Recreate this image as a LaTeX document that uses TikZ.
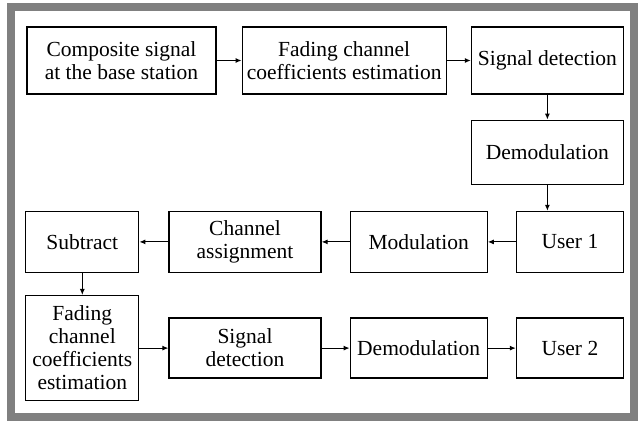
\documentclass[tikz,border=0pt]{standalone}
\usepackage{fontspec}
\setmainfont{LiberationSerif}[Extension=.ttf,UprightFont=*-Regular,BoldFont=*-Bold]
\usetikzlibrary{arrows.meta,positioning}
\definecolor{framegray}{HTML}{808080}
\tikzset{
  stagebox/.style={draw=black,line width=1.2pt,fill=white,align=center,inner sep=2pt,font=\fontsize{21.5}{23}\selectfont,minimum height=61pt},
  stagearrow/.style={-{Latex[length=6pt,width=5pt]},line width=1.1pt},
}
\begin{document}
\begin{tikzpicture}[x=1pt,y=-1pt]
  \useasboundingbox (0,0) rectangle (641,425);
  \draw[framegray,line width=8pt] (11,7) rectangle (634,417);
  % top row and the column down the right side
  \node[stagebox,minimum width=189pt,minimum height=67pt] (composite) at (121.5,60.5) {Composite signal\\at the base station};
  \node[stagebox,minimum width=204pt,minimum height=67pt,right=25pt of composite] (fadingone) {Fading channel\\coefficients estimation};
  \node[stagebox,minimum width=152pt,minimum height=67pt,right=24pt of fadingone] (detectone) {Signal detection};
  \node[stagebox,minimum width=152pt,minimum height=64pt,below=25pt of detectone] (demodone) {Demodulation};
  \node[stagebox,minimum width=107pt,anchor=north east] (userone) at ([yshift=-26pt]demodone.south east) {User 1};
  % middle row, running back to the left
  \node[stagebox,minimum width=137pt,left=28pt of userone] (modulation) {Modulation};
  \node[stagebox,minimum width=152pt,left=28pt of modulation] (assign) {Channel\\assignment};
  \node[stagebox,minimum width=113pt,left=29pt of assign] (subtract) {Subtract};
  % bottom row
  \node[stagebox,minimum width=113pt,minimum height=105pt,below=22pt of subtract] (fadingtwo) {Fading\\channel\\coefficients\\estimation};
  \node[stagebox,minimum width=152pt,minimum height=60pt,right=29pt of fadingtwo] (detecttwo) {Signal\\detection};
  \node[stagebox,minimum width=137pt,minimum height=60pt,right=28pt of detecttwo] (demodtwo) {Demodulation};
  \node[stagebox,minimum width=107pt,minimum height=60pt,right=28pt of demodtwo] (usertwo) {User 2};
  \draw[stagearrow] (composite) -- (fadingone);
  \draw[stagearrow] (fadingone) -- (detectone);
  \draw[stagearrow] (detectone) -- (demodone);
  \draw[stagearrow] (demodone.south) -- (demodone.south |- userone.north);
  \draw[stagearrow] (userone) -- (modulation);
  \draw[stagearrow] (modulation) -- (assign);
  \draw[stagearrow] (assign) -- (subtract);
  \draw[stagearrow] (subtract) -- (fadingtwo);
  \draw[stagearrow] (fadingtwo) -- (detecttwo);
  \draw[stagearrow] (detecttwo) -- (demodtwo);
  \draw[stagearrow] (demodtwo) -- (usertwo);
\end{tikzpicture}
\end{document}
